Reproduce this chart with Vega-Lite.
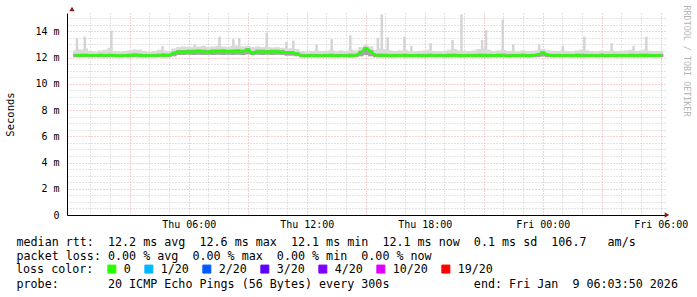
{
 "$schema": "https://vega.github.io/schema/vega-lite/v6.json",
 "width": 600, "height": 202,
 "autosize": "none",
 "padding": {"left": 67, "top": 13, "right": 30, "bottom": 82},
 "background": "white",
 "config": {
  "view": {"stroke": null},
  "font": "DejaVu Sans Mono",
  "axis": {"labelFont": "DejaVu Sans Mono", "titleFont": "DejaVu Sans Mono", "titleFontWeight": "normal", "labelColor": "black", "titleColor": "black"}
 },
 "datasets": {
  "s": [
{"t":"2026-01-08T00:15:00Z","m":12.17,"lo":12.03,"hi":12.55,"d":12.28,"loss":"0"},
{"t":"2026-01-08T00:30:00Z","m":12.18,"lo":12.02,"hi":12.62,"d":12.30,"loss":"0"},
{"t":"2026-01-08T00:45:00Z","m":12.16,"lo":12.03,"hi":12.70,"d":12.30,"loss":"0"},
{"t":"2026-01-08T01:00:00Z","m":12.18,"lo":12.02,"hi":12.50,"d":12.27,"loss":"0"},
{"t":"2026-01-08T01:15:00Z","m":12.17,"lo":12.03,"hi":12.45,"d":12.26,"loss":"0"},
{"t":"2026-01-08T01:30:00Z","m":12.18,"lo":12.02,"hi":12.55,"d":12.30,"loss":"0"},
{"t":"2026-01-08T01:45:00Z","m":12.16,"lo":12.02,"hi":12.60,"d":12.28,"loss":"0"},
{"t":"2026-01-08T02:00:00Z","m":12.17,"lo":12.03,"hi":12.75,"d":12.30,"loss":"0"},
{"t":"2026-01-08T02:15:00Z","m":12.18,"lo":12.02,"hi":12.50,"d":12.27,"loss":"0"},
{"t":"2026-01-08T02:30:00Z","m":12.15,"lo":12.02,"hi":12.45,"d":12.25,"loss":"0"},
{"t":"2026-01-08T02:45:00Z","m":12.17,"lo":12.03,"hi":12.50,"d":12.27,"loss":"0"},
{"t":"2026-01-08T03:00:00Z","m":12.16,"lo":12.02,"hi":12.55,"d":12.30,"loss":"0"},
{"t":"2026-01-08T03:15:00Z","m":12.18,"lo":12.03,"hi":12.62,"d":12.33,"loss":"0"},
{"t":"2026-01-08T03:30:00Z","m":12.17,"lo":12.02,"hi":12.60,"d":12.30,"loss":"0"},
{"t":"2026-01-08T03:45:00Z","m":12.14,"lo":12.02,"hi":12.50,"d":12.27,"loss":"0"},
{"t":"2026-01-08T04:00:00Z","m":12.18,"lo":12.03,"hi":12.45,"d":12.26,"loss":"0"},
{"t":"2026-01-08T04:15:00Z","m":12.16,"lo":12.02,"hi":12.50,"d":12.28,"loss":"0"},
{"t":"2026-01-08T04:30:00Z","m":12.17,"lo":12.03,"hi":12.60,"d":12.30,"loss":"0"},
{"t":"2026-01-08T04:45:00Z","m":12.20,"lo":12.02,"hi":12.55,"d":12.32,"loss":"0"},
{"t":"2026-01-08T05:00:00Z","m":12.18,"lo":12.03,"hi":12.50,"d":12.30,"loss":"0"},
{"t":"2026-01-08T05:15:00Z","m":12.35,"lo":12.10,"hi":12.70,"d":12.45,"loss":"0"},
{"t":"2026-01-08T05:30:00Z","m":12.46,"lo":12.20,"hi":12.80,"d":12.58,"loss":"0"},
{"t":"2026-01-08T05:45:00Z","m":12.44,"lo":12.20,"hi":12.85,"d":12.58,"loss":"0"},
{"t":"2026-01-08T06:00:00Z","m":12.47,"lo":12.22,"hi":12.82,"d":12.60,"loss":"0"},
{"t":"2026-01-08T06:15:00Z","m":12.46,"lo":12.20,"hi":12.78,"d":12.60,"loss":"0"},
{"t":"2026-01-08T06:30:00Z","m":12.50,"lo":12.22,"hi":12.85,"d":12.62,"loss":"0"},
{"t":"2026-01-08T06:45:00Z","m":12.47,"lo":12.20,"hi":12.90,"d":12.60,"loss":"0"},
{"t":"2026-01-08T07:00:00Z","m":12.45,"lo":12.22,"hi":12.80,"d":12.58,"loss":"0"},
{"t":"2026-01-08T07:15:00Z","m":12.49,"lo":12.20,"hi":12.85,"d":12.62,"loss":"0"},
{"t":"2026-01-08T07:30:00Z","m":12.48,"lo":12.22,"hi":12.90,"d":12.62,"loss":"0"},
{"t":"2026-01-08T07:45:00Z","m":12.50,"lo":12.20,"hi":12.85,"d":12.63,"loss":"0"},
{"t":"2026-01-08T08:00:00Z","m":12.46,"lo":12.22,"hi":12.80,"d":12.60,"loss":"0"},
{"t":"2026-01-08T08:15:00Z","m":12.48,"lo":12.20,"hi":12.90,"d":12.62,"loss":"0"},
{"t":"2026-01-08T08:30:00Z","m":12.50,"lo":12.22,"hi":12.92,"d":12.64,"loss":"0"},
{"t":"2026-01-08T08:45:00Z","m":12.47,"lo":12.20,"hi":12.85,"d":12.60,"loss":"0"},
{"t":"2026-01-08T09:00:00Z","m":12.63,"lo":12.25,"hi":12.90,"d":12.72,"loss":"0"},
{"t":"2026-01-08T09:15:00Z","m":12.32,"lo":12.20,"hi":12.80,"d":12.50,"loss":"0"},
{"t":"2026-01-08T09:30:00Z","m":12.46,"lo":12.22,"hi":12.85,"d":12.60,"loss":"0"},
{"t":"2026-01-08T09:45:00Z","m":12.47,"lo":12.20,"hi":12.80,"d":12.60,"loss":"0"},
{"t":"2026-01-08T10:00:00Z","m":12.45,"lo":12.22,"hi":12.82,"d":12.58,"loss":"0"},
{"t":"2026-01-08T10:15:00Z","m":12.48,"lo":12.20,"hi":12.78,"d":12.60,"loss":"0"},
{"t":"2026-01-08T10:30:00Z","m":12.46,"lo":12.22,"hi":12.80,"d":12.60,"loss":"0"},
{"t":"2026-01-08T10:45:00Z","m":12.44,"lo":12.20,"hi":12.75,"d":12.58,"loss":"0"},
{"t":"2026-01-08T11:00:00Z","m":12.38,"lo":12.15,"hi":12.70,"d":12.50,"loss":"0"},
{"t":"2026-01-08T11:15:00Z","m":12.37,"lo":12.15,"hi":12.72,"d":12.50,"loss":"0"},
{"t":"2026-01-08T11:30:00Z","m":12.30,"lo":12.10,"hi":12.65,"d":12.42,"loss":"0"},
{"t":"2026-01-08T11:45:00Z","m":12.16,"lo":12.02,"hi":12.50,"d":12.28,"loss":"0"},
{"t":"2026-01-08T12:00:00Z","m":12.15,"lo":12.02,"hi":12.45,"d":12.27,"loss":"0"},
{"t":"2026-01-08T12:15:00Z","m":12.17,"lo":12.03,"hi":12.50,"d":12.28,"loss":"0"},
{"t":"2026-01-08T12:30:00Z","m":12.16,"lo":12.02,"hi":12.55,"d":12.28,"loss":"0"},
{"t":"2026-01-08T12:45:00Z","m":12.15,"lo":12.02,"hi":12.48,"d":12.26,"loss":"0"},
{"t":"2026-01-08T13:00:00Z","m":12.17,"lo":12.03,"hi":12.52,"d":12.28,"loss":"0"},
{"t":"2026-01-08T13:15:00Z","m":12.16,"lo":12.02,"hi":12.60,"d":12.30,"loss":"0"},
{"t":"2026-01-08T13:30:00Z","m":12.15,"lo":12.02,"hi":12.50,"d":12.27,"loss":"0"},
{"t":"2026-01-08T13:45:00Z","m":12.17,"lo":12.03,"hi":12.55,"d":12.28,"loss":"0"},
{"t":"2026-01-08T14:00:00Z","m":12.16,"lo":12.02,"hi":12.50,"d":12.28,"loss":"0"},
{"t":"2026-01-08T14:15:00Z","m":12.15,"lo":12.02,"hi":12.62,"d":12.30,"loss":"0"},
{"t":"2026-01-08T14:30:00Z","m":12.18,"lo":12.03,"hi":12.55,"d":12.30,"loss":"0"},
{"t":"2026-01-08T14:45:00Z","m":12.40,"lo":12.10,"hi":12.80,"d":12.52,"loss":"0"},
{"t":"2026-01-08T15:00:00Z","m":12.72,"lo":12.20,"hi":12.95,"d":12.80,"loss":"0"},
{"t":"2026-01-08T15:15:00Z","m":12.48,"lo":12.10,"hi":12.85,"d":12.58,"loss":"0"},
{"t":"2026-01-08T15:30:00Z","m":12.18,"lo":12.03,"hi":12.60,"d":12.30,"loss":"0"},
{"t":"2026-01-08T15:45:00Z","m":12.16,"lo":12.02,"hi":12.70,"d":12.30,"loss":"0"},
{"t":"2026-01-08T16:00:00Z","m":12.17,"lo":12.03,"hi":12.65,"d":12.30,"loss":"0"},
{"t":"2026-01-08T16:15:00Z","m":12.15,"lo":12.02,"hi":12.55,"d":12.28,"loss":"0"},
{"t":"2026-01-08T16:30:00Z","m":12.17,"lo":12.02,"hi":12.50,"d":12.28,"loss":"0"},
{"t":"2026-01-08T16:45:00Z","m":12.16,"lo":12.03,"hi":12.55,"d":12.28,"loss":"0"},
{"t":"2026-01-08T17:00:00Z","m":12.18,"lo":12.02,"hi":12.60,"d":12.30,"loss":"0"},
{"t":"2026-01-08T17:15:00Z","m":12.15,"lo":12.02,"hi":12.50,"d":12.27,"loss":"0"},
{"t":"2026-01-08T17:30:00Z","m":12.17,"lo":12.03,"hi":12.48,"d":12.27,"loss":"0"},
{"t":"2026-01-08T17:45:00Z","m":12.16,"lo":12.02,"hi":12.52,"d":12.28,"loss":"0"},
{"t":"2026-01-08T18:00:00Z","m":12.15,"lo":12.02,"hi":12.55,"d":12.28,"loss":"0"},
{"t":"2026-01-08T18:15:00Z","m":12.17,"lo":12.03,"hi":12.60,"d":12.30,"loss":"0"},
{"t":"2026-01-08T18:30:00Z","m":12.16,"lo":12.02,"hi":12.50,"d":12.27,"loss":"0"},
{"t":"2026-01-08T18:45:00Z","m":12.18,"lo":12.03,"hi":12.48,"d":12.28,"loss":"0"},
{"t":"2026-01-08T19:00:00Z","m":12.15,"lo":12.02,"hi":12.50,"d":12.27,"loss":"0"},
{"t":"2026-01-08T19:15:00Z","m":12.17,"lo":12.02,"hi":12.60,"d":12.30,"loss":"0"},
{"t":"2026-01-08T19:30:00Z","m":12.16,"lo":12.03,"hi":12.65,"d":12.30,"loss":"0"},
{"t":"2026-01-08T19:45:00Z","m":12.17,"lo":12.02,"hi":12.55,"d":12.28,"loss":"0"},
{"t":"2026-01-08T20:00:00Z","m":12.15,"lo":12.02,"hi":12.52,"d":12.27,"loss":"0"},
{"t":"2026-01-08T20:15:00Z","m":12.18,"lo":12.03,"hi":12.50,"d":12.28,"loss":"0"},
{"t":"2026-01-08T20:30:00Z","m":12.16,"lo":12.02,"hi":12.55,"d":12.28,"loss":"0"},
{"t":"2026-01-08T20:45:00Z","m":12.17,"lo":12.03,"hi":12.65,"d":12.30,"loss":"0"},
{"t":"2026-01-08T21:00:00Z","m":12.15,"lo":12.02,"hi":12.70,"d":12.30,"loss":"0"},
{"t":"2026-01-08T21:15:00Z","m":12.17,"lo":12.02,"hi":12.60,"d":12.28,"loss":"0"},
{"t":"2026-01-08T21:30:00Z","m":12.16,"lo":12.03,"hi":12.50,"d":12.27,"loss":"0"},
{"t":"2026-01-08T21:45:00Z","m":12.18,"lo":12.02,"hi":12.55,"d":12.30,"loss":"0"},
{"t":"2026-01-08T22:00:00Z","m":12.16,"lo":12.03,"hi":12.60,"d":12.30,"loss":"0"},
{"t":"2026-01-08T22:15:00Z","m":12.15,"lo":12.02,"hi":12.50,"d":12.27,"loss":"0"},
{"t":"2026-01-08T22:30:00Z","m":12.17,"lo":12.03,"hi":12.52,"d":12.28,"loss":"0"},
{"t":"2026-01-08T22:45:00Z","m":12.16,"lo":12.02,"hi":12.48,"d":12.27,"loss":"0"},
{"t":"2026-01-08T23:00:00Z","m":12.18,"lo":12.03,"hi":12.55,"d":12.30,"loss":"0"},
{"t":"2026-01-08T23:15:00Z","m":12.15,"lo":12.02,"hi":12.50,"d":12.27,"loss":"0"},
{"t":"2026-01-08T23:30:00Z","m":12.17,"lo":12.03,"hi":12.52,"d":12.28,"loss":"0"},
{"t":"2026-01-08T23:45:00Z","m":12.22,"lo":12.03,"hi":12.55,"d":12.32,"loss":"0"},
{"t":"2026-01-09T00:00:00Z","m":12.38,"lo":12.08,"hi":12.65,"d":12.48,"loss":"0"},
{"t":"2026-01-09T00:15:00Z","m":12.20,"lo":12.03,"hi":12.55,"d":12.30,"loss":"0"},
{"t":"2026-01-09T00:30:00Z","m":12.16,"lo":12.02,"hi":12.52,"d":12.28,"loss":"0"},
{"t":"2026-01-09T00:45:00Z","m":12.17,"lo":12.03,"hi":12.50,"d":12.28,"loss":"0"},
{"t":"2026-01-09T01:00:00Z","m":12.15,"lo":12.02,"hi":12.55,"d":12.27,"loss":"0"},
{"t":"2026-01-09T01:15:00Z","m":12.17,"lo":12.03,"hi":12.50,"d":12.28,"loss":"0"},
{"t":"2026-01-09T01:30:00Z","m":12.16,"lo":12.02,"hi":12.48,"d":12.27,"loss":"0"},
{"t":"2026-01-09T01:45:00Z","m":12.18,"lo":12.03,"hi":12.55,"d":12.30,"loss":"0"},
{"t":"2026-01-09T02:00:00Z","m":12.16,"lo":12.02,"hi":12.60,"d":12.30,"loss":"0"},
{"t":"2026-01-09T02:15:00Z","m":12.15,"lo":12.02,"hi":12.55,"d":12.28,"loss":"0"},
{"t":"2026-01-09T02:30:00Z","m":12.17,"lo":12.03,"hi":12.50,"d":12.28,"loss":"0"},
{"t":"2026-01-09T02:45:00Z","m":12.16,"lo":12.02,"hi":12.48,"d":12.27,"loss":"0"},
{"t":"2026-01-09T03:00:00Z","m":12.18,"lo":12.03,"hi":12.52,"d":12.30,"loss":"0"},
{"t":"2026-01-09T03:15:00Z","m":12.15,"lo":12.02,"hi":12.50,"d":12.27,"loss":"0"},
{"t":"2026-01-09T03:30:00Z","m":12.17,"lo":12.03,"hi":12.55,"d":12.28,"loss":"0"},
{"t":"2026-01-09T03:45:00Z","m":12.16,"lo":12.02,"hi":12.50,"d":12.28,"loss":"0"},
{"t":"2026-01-09T04:00:00Z","m":12.17,"lo":12.03,"hi":12.52,"d":12.28,"loss":"0"},
{"t":"2026-01-09T04:15:00Z","m":12.15,"lo":12.02,"hi":12.55,"d":12.27,"loss":"0"},
{"t":"2026-01-09T04:30:00Z","m":12.17,"lo":12.03,"hi":12.60,"d":12.30,"loss":"0"},
{"t":"2026-01-09T04:45:00Z","m":12.16,"lo":12.02,"hi":12.52,"d":12.28,"loss":"0"},
{"t":"2026-01-09T05:00:00Z","m":12.18,"lo":12.03,"hi":12.55,"d":12.30,"loss":"0"},
{"t":"2026-01-09T05:15:00Z","m":12.16,"lo":12.02,"hi":12.60,"d":12.30,"loss":"0"},
{"t":"2026-01-09T05:30:00Z","m":12.17,"lo":12.03,"hi":12.52,"d":12.28,"loss":"0"},
{"t":"2026-01-09T05:45:00Z","m":12.15,"lo":12.02,"hi":12.50,"d":12.27,"loss":"0"},
{"t":"2026-01-09T06:00:00Z","m":12.17,"lo":12.03,"hi":12.48,"d":12.28,"loss":"0"}
  ],
  "spk": [
{"t":"2026-01-08T00:19:00Z","lo":12.4,"hi":13.5},
{"t":"2026-01-08T00:43:00Z","lo":12.4,"hi":13.6},
{"t":"2026-01-08T02:04:00Z","lo":12.4,"hi":14.05},
{"t":"2026-01-08T04:40:00Z","lo":12.4,"hi":12.9},
{"t":"2026-01-08T06:18:00Z","lo":12.6,"hi":13.0},
{"t":"2026-01-08T07:34:00Z","lo":12.6,"hi":13.6},
{"t":"2026-01-08T08:16:00Z","lo":12.6,"hi":13.4},
{"t":"2026-01-08T08:34:00Z","lo":12.6,"hi":13.5},
{"t":"2026-01-08T09:58:00Z","lo":12.6,"hi":13.9},
{"t":"2026-01-08T10:58:00Z","lo":12.5,"hi":13.2},
{"t":"2026-01-08T11:19:00Z","lo":12.5,"hi":13.3},
{"t":"2026-01-08T12:30:00Z","lo":12.4,"hi":13.0},
{"t":"2026-01-08T13:16:00Z","lo":12.4,"hi":13.4},
{"t":"2026-01-08T14:13:00Z","lo":12.4,"hi":13.7},
{"t":"2026-01-08T15:37:00Z","lo":12.4,"hi":13.5},
{"t":"2026-01-08T15:49:00Z","lo":12.4,"hi":15.3},
{"t":"2026-01-08T16:07:00Z","lo":12.4,"hi":13.55},
{"t":"2026-01-08T16:58:00Z","lo":12.4,"hi":13.6},
{"t":"2026-01-08T17:19:00Z","lo":12.4,"hi":12.9},
{"t":"2026-01-08T18:18:00Z","lo":12.4,"hi":13.1},
{"t":"2026-01-08T19:25:00Z","lo":12.4,"hi":13.35},
{"t":"2026-01-08T19:52:00Z","lo":12.4,"hi":15.3},
{"t":"2026-01-08T20:55:00Z","lo":12.4,"hi":13.35},
{"t":"2026-01-08T21:07:00Z","lo":12.4,"hi":14.1},
{"t":"2026-01-08T21:58:00Z","lo":12.4,"hi":14.9},
{"t":"2026-01-08T22:30:00Z","lo":12.4,"hi":13.0},
{"t":"2026-01-08T23:49:00Z","lo":12.4,"hi":13.0},
{"t":"2026-01-09T01:01:00Z","lo":12.4,"hi":12.9},
{"t":"2026-01-09T02:07:00Z","lo":12.4,"hi":13.6},
{"t":"2026-01-09T03:30:00Z","lo":12.4,"hi":13.1},
{"t":"2026-01-09T04:37:00Z","lo":12.4,"hi":12.9},
{"t":"2026-01-09T05:16:00Z","lo":12.4,"hi":13.6}
  ]
 },
 "resolve": {"axis": {"x": "independent", "y": "independent"}},
 "layer": [
  {
   "data": {"name": "spk"},
   "mark": {"type": "bar", "size": 2.5, "color": "#d4d4d4", "clip": true},
   "encoding": {
    "x": {"field": "t", "type": "temporal",
      "scale": {"type": "utc", "domain": [1767830630000, 1767938630000]},
      "axis": {"orient": "bottom", "labels": false, "ticks": false, "domain": false, "grid": true, "gridColor": "#c8c8c8", "gridDash": [1, 2], "gridWidth": 1,
        "values": [1767834000000,1767837600000,1767844800000,1767848400000,1767855600000,1767859200000,1767866400000,1767870000000,1767877200000,1767880800000,1767888000000,1767891600000,1767898800000,1767902400000,1767909600000,1767913200000,1767920400000,1767924000000,1767931200000,1767934800000],
        "title": "probe:\u00a0\u00a0\u00a0\u00a0\u00a0\u00a0\u00a020 ICMP Echo Pings (56 Bytes) every 300s\u00a0\u00a0\u00a0\u00a0\u00a0\u00a0\u00a0\u00a0\u00a0\u00a0\u00a0\u00a0end: Fri Jan\u00a0\u00a09 06:03:50 2026",
        "titleFontSize": 11.7, "titleAlign": "left", "titleBaseline": "alphabetic", "titleAnchor": "start", "titleX": -51, "titleY": 72.5}},
    "y": {"field": "lo", "type": "quantitative",
      "scale": {"domain": [0, 15.4], "nice": false, "zero": true},
      "axis": {"orient": "left", "labels": false, "ticks": false, "domain": false, "title": null, "grid": true, "gridColor": "#c8c8c8", "gridDash": [1, 2], "gridWidth": 1, "values": [0.5,1,1.5,2.5,3,3.5,4.5,5,5.5,6.5,7,7.5,8.5,9,9.5,10.5,11,11.5,12.5,13,13.5,14.5,15]}},
    "y2": {"field": "hi"}
   }
  },
  {
   "data": {"name": "s"},
   "mark": {"type": "bar", "size": 5.2, "color": "#dadada", "clip": true},
   "encoding": {
    "x": {"field": "t", "type": "temporal",
      "axis": {"orient": "bottom", "labels": false, "ticks": false, "domain": false, "title": null, "grid": true, "gridColor": "#e8a4a4", "gridDash": [1, 2], "gridWidth": 1,
        "values": [1767841200000,1767852000000,1767862800000,1767873600000,1767884400000,1767895200000,1767906000000,1767916800000,1767927600000,1767938400000]}},
    "y": {"field": "lo", "type": "quantitative",
      "axis": {"orient": "left", "labels": false, "ticks": false, "domain": false, "title": null, "grid": true, "gridColor": "#e8a4a4", "gridDash": [1, 2], "gridWidth": 1, "values": [2,4,6,8,10,12,14]}},
    "y2": {"field": "hi"}
   }
  },
  {
   "data": {"name": "s"},
   "mark": {"type": "bar", "size": 5.2, "color": "#a4a4a4", "clip": true},
   "encoding": {
    "x": {"field": "t", "type": "temporal",
      "axis": {"orient": "bottom", "grid": false, "ticks": false, "domain": true, "domainColor": "black", "domainWidth": 1,
        "labelFontSize": 10, "labelPadding": 4, "labelFlush": false, "labelOverlap": false, "labelBound": false,
        "format": "%a %H:%M", "values": [1767852000000,1767873600000,1767895200000,1767916800000,1767938400000],
        "title": ["median rtt:\u00a0\u00a012.2 ms avg\u00a0\u00a012.6 ms max\u00a0\u00a012.1 ms min\u00a0\u00a012.1 ms now\u00a0\u00a00.1 ms sd\u00a0\u00a0106.7\u00a0\u00a0\u00a0am/s", "packet loss: 0.00 % avg\u00a0\u00a00.00 % max\u00a0\u00a00.00 % min\u00a0\u00a00.00 % now"],
        "titleFontSize": 11.7, "titleLineHeight": 14, "titleAlign": "left", "titleBaseline": "alphabetic", "titleAnchor": "start", "titleX": -51, "titleY": 30.5}},
    "y": {"field": "lo", "type": "quantitative",
      "axis": {"orient": "left", "grid": false, "ticks": false, "domain": true, "domainColor": "black", "domainWidth": 1,
        "values": [0,2,4,6,8,10,12,14], "labelExpr": "datum.value == 0 ? '0' : datum.value + ' m'", "labelFontSize": 10, "labelPadding": 8,
        "title": "Seconds", "titleFontSize": 10.5, "titleAngle": -90, "titleX": -57, "titleY": 101, "titleAlign": "center", "titleBaseline": "middle"}},
    "y2": {"field": "d"}
   }
  },
  {
   "data": {"name": "s"},
   "mark": {"type": "trail", "size": 2.5, "clip": true},
   "encoding": {
    "x": {"field": "t", "type": "temporal", "axis": null},
    "y": {"field": "m", "type": "quantitative",
      "axis": {"orient": "right", "labels": false, "ticks": false, "domain": false, "grid": false,
        "title": "RRDTOOL / TOBI OETIKER", "titleAngle": 90, "titleX": 19, "titleY": -8, "titleAlign": "left", "titleBaseline": "middle", "titleColor": "#b4b4b4", "titleFontSize": 8.4}},
    "color": {"field": "loss", "type": "nominal",
      "scale": {"domain": ["0", "1/20", "2/20", "3/20", "4/20", "10/20", "19/20"], "range": ["#26ff00", "#00b8ff", "#0059ff", "#5e00ff", "#7e00ff", "#dd00ff", "#ff0000"]},
      "legend": {"orient": "none", "legendX": -51, "legendY": 250, "direction": "horizontal", "title": "loss color:", "titleOrient": "left",
        "titleFont": "DejaVu Sans Mono", "titleFontSize": 11.7, "titleFontWeight": "normal", "titleColor": "black", "titlePadding": 12, "titleBaseline": "middle",
        "labelFont": "DejaVu Sans Mono", "labelFontSize": 11.7, "labelColor": "black", "labelOffset": 6, "columnPadding": 11,
        "symbolType": "square", "symbolSize": 64, "symbolStrokeColor": "black", "symbolStrokeWidth": 1, "symbolOpacity": 1,
        "encode": {"symbols": {"update": {"fill": {"scale": "color", "field": "value"}, "stroke": {"value": "black"}, "strokeWidth": {"value": 1}, "fillOpacity": {"value": 1}}}}}}
   }
  },
  {
   "data": {"values": [{}]},
   "mark": {"type": "point", "shape": "triangle-right", "filled": true, "color": "#8b1a1a", "size": 28, "opacity": 1, "xOffset": 5},
   "encoding": {
    "x": {"datum": 1767938630000, "type": "temporal", "axis": null},
    "y": {"datum": 0, "type": "quantitative", "axis": null}
   }
  },
  {
   "data": {"values": [{}]},
   "mark": {"type": "point", "shape": "triangle-up", "filled": true, "color": "#8b1a1a", "size": 28, "opacity": 1, "yOffset": -4},
   "encoding": {
    "x": {"datum": 1767830630000, "type": "temporal", "axis": null},
    "y": {"datum": 15.4, "type": "quantitative", "axis": null}
   }
  }
 ]
}
